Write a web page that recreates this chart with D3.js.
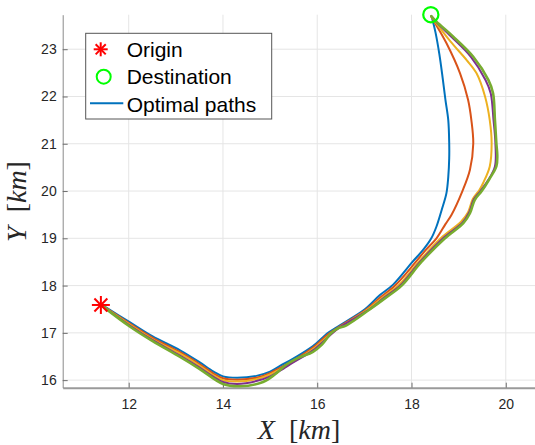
<!DOCTYPE html>
<html>
<head>
<meta charset="utf-8">
<script src="https://cdn.jsdelivr.net/npm/d3@7"></script>
<style>
  body { margin: 0; background: #fff; }
  svg { display: block; }
  .tick text { font-family: "Liberation Sans", Arial, sans-serif; font-size: 14px; fill: #262626; }
</style>
</head>
<body>
<div class="graphics"></div>
<script>
// origin / destination (km)
const origin = [11.41, 17.59];
const destination = [18.41, 23.73];

// optimal paths, [x, y] in km
const pathBlue = [
  [11.45,17.58],[12.03,17.22],[12.5,16.93],[13.09,16.63],[13.5,16.38],[13.8,16.18],[14.0,16.08],
  [14.3,16.05],[14.71,16.09],[15.0,16.18],[15.21,16.30],[15.5,16.46],[15.91,16.72],[16.23,17.0],
  [16.48,17.16],[17.01,17.5],[17.33,17.8],[17.61,18.02],[18.02,18.5],[18.25,18.76],[18.42,19.0],
  [18.53,19.25],[18.64,19.60],[18.74,19.95],[18.78,20.3],[18.80,20.7],[18.80,21.01],[18.78,21.5],
  [18.72,21.93],[18.66,22.4],[18.59,22.9],[18.51,23.35],[18.43,23.68]
];
const pathOrange = [
  [11.45,17.57],[12.03,17.19],[12.5,16.90],[13.09,16.59],[13.5,16.34],[13.8,16.14],[14.0,16.04],
  [14.3,16.01],[14.71,16.05],[15.0,16.15],[15.21,16.26],[15.5,16.42],[15.91,16.69],[16.23,16.97],
  [16.48,17.14],[17.01,17.47],[17.33,17.74],[17.65,18.0],[18.09,18.5],[18.30,18.75],[18.53,19.0],
  [18.72,19.3],[18.85,19.5],[19.08,20.0],[19.24,20.45],[19.31,21.0],[19.27,21.5],[19.20,21.93],
  [19.03,22.49],[18.74,23.13],[18.52,23.52],[18.42,23.69]
];
const pathYellow = [
  [11.45,17.565],[12.03,17.17],[12.5,16.87],[13.09,16.56],[13.5,16.31],[13.8,16.10],[14.0,16.0],
  [14.3,15.97],[14.71,16.02],[15.0,16.12],[15.21,16.23],[15.5,16.39],[15.91,16.66],[16.23,16.93],
  [16.48,17.12],[17.05,17.48],[17.4,17.76],[17.72,18.0],[18.15,18.5],[18.62,19.0],[19.05,19.35],
  [19.2,19.55],[19.3,19.83],[19.44,20.02],[19.52,20.17],[19.66,20.52],[19.70,21.01],[19.66,21.5],
  [19.56,22.0],[19.38,22.49],[19.17,22.77],[18.83,23.16],[18.42,23.69]
];
const pathPurple = [
  [11.45,17.56],[12.03,17.15],[12.5,16.85],[13.09,16.52],[13.5,16.27],[13.8,16.07],[14.0,15.96],
  [14.3,15.92],[14.71,15.98],[15.0,16.08],[15.21,16.2],[15.5,16.38],[15.91,16.63],[16.2,16.88],
  [16.45,17.1],[17.1,17.49],[17.43,17.75],[17.76,18.0],[18.18,18.5],[18.67,19.0],[19.08,19.33],
  [19.22,19.54],[19.32,19.82],[19.47,20.01],[19.62,20.22],[19.77,20.52],[19.78,21.01],[19.74,21.5],
  [19.68,22.07],[19.57,22.35],[19.26,22.84],[18.84,23.27],[18.5,23.6],[18.42,23.7]
];
const pathGreen = [
  [11.45,17.56],[12.03,17.13],[12.5,16.83],[13.09,16.49],[13.5,16.24],[14.0,15.92],[14.36,15.87],
  [14.85,15.96],[15.1,16.12],[15.35,16.33],[15.6,16.47],[15.91,16.60],[16.1,16.75],[16.3,17.0],
  [16.45,17.1],[16.62,17.16],[17.12,17.5],[17.45,17.74],[17.79,18.0],[18.21,18.5],[18.71,19.0],
  [19.10,19.32],[19.24,19.53],[19.34,19.81],[19.49,20.0],[19.65,20.25],[19.80,20.52],[19.82,20.75],
  [19.80,21.01],[19.77,21.5],[19.73,22.07],[19.63,22.35],[19.31,22.84],[18.88,23.27],[18.53,23.58],
  [18.42,23.7]
];
const paths = [pathBlue, pathOrange, pathYellow, pathPurple, pathGreen];

const xTicks = [12, 14, 16, 18, 20];
const yTicks = [16, 17, 18, 19, 20, 21, 22, 23];
const legendLabels = ["Origin", "Destination", "Optimal paths"];

// matlab default colour order
const colors = ["#0072BD", "#D95319", "#EDB120", "#7E2F8E", "#77AC30"];

const width = 535;
const height = 445;
const margin = { top: 14.7, right: 0, bottom: 57.3, left: 62.7 };

const svg = d3.select(".graphics")
  .append("svg")
  .attr("width", width)
  .attr("height", height);

const x = d3.scaleLinear()
  .domain([10.6, 20.62])
  .range([margin.left, width - margin.right]);

const y = d3.scaleLinear()
  .domain([15.84, 23.73])
  .range([height - margin.bottom, margin.top]);

// grid
const grid = svg.append("g").attr("stroke", "#e5e5e5").attr("stroke-width", 1);
grid.selectAll(".gx")
  .data(xTicks)
  .join("line")
  .attr("x1", d => x(d)).attr("x2", d => x(d))
  .attr("y1", y.range()[0]).attr("y2", y.range()[1]);
grid.selectAll(".gy")
  .data(yTicks)
  .join("line")
  .attr("y1", d => y(d)).attr("y2", d => y(d))
  .attr("x1", x.range()[0]).attr("x2", x.range()[1]);

// axes
const xAxis = svg.append("g")
  .attr("transform", `translate(0,${y.range()[0]})`)
  .call(d3.axisBottom(x).tickValues(xTicks).tickSizeInner(-5).tickSizeOuter(0).tickPadding(11));
const yAxis = svg.append("g")
  .attr("transform", `translate(${x.range()[0]},0)`)
  .call(d3.axisLeft(y).tickValues(yTicks).tickSizeInner(-5).tickSizeOuter(0).tickPadding(6));

xAxis.select(".domain").attr("stroke", "#9a9a9a").attr("stroke-width", 2);
yAxis.select(".domain").attr("stroke", "#8a8a8a");
svg.selectAll(".tick line").attr("stroke", "#6e6e6e");

// paths
const line = d3.line()
  .x(d => x(d[0]))
  .y(d => y(d[1]))
  .curve(d3.curveCatmullRom.alpha(0.5));

svg.append("g")
  .attr("fill", "none")
  .attr("stroke-linejoin", "round")
  .attr("stroke-linecap", "round")
  .selectAll("path")
  .data(paths)
  .join("path")
  .attr("d", line)
  .attr("stroke", (d, i) => colors[i])
  .attr("stroke-width", (d, i) => i === paths.length - 1 ? 2.6 : 2);

// markers
function asterisk(g, cx, cy, r) {
  const a = r * 0.72;
  const segs = [[-r, 0, r, 0], [0, -r, 0, r], [-a, -a, a, a], [-a, a, a, -a]];
  g.append("g")
    .attr("stroke", "#ff0000")
    .attr("stroke-width", 2)
    .selectAll("line")
    .data(segs)
    .join("line")
    .attr("x1", s => cx + s[0]).attr("y1", s => cy + s[1])
    .attr("x2", s => cx + s[2]).attr("y2", s => cy + s[3]);
}

asterisk(svg, x(origin[0]), y(origin[1]), 9);

svg.append("circle")
  .attr("cx", x(destination[0]))
  .attr("cy", y(destination[1]))
  .attr("r", 7.6)
  .attr("fill", "none")
  .attr("stroke", "#00ff00")
  .attr("stroke-width", 2.2);

// legend
const legend = svg.append("g");
legend.append("rect")
  .attr("x", 85.7).attr("y", 33.3)
  .attr("width", 186).attr("height", 85.7)
  .attr("fill", "#fff")
  .attr("stroke", "#555")
  .attr("stroke-width", 1);

asterisk(legend, 100.7, 49.3, 7);
legend.append("circle")
  .attr("cx", 103.7).attr("cy", 76.7).attr("r", 7)
  .attr("fill", "none").attr("stroke", "#00ff00").attr("stroke-width", 2);
legend.append("line")
  .attr("x1", 90).attr("x2", 123.3)
  .attr("y1", 103.3).attr("y2", 103.3)
  .attr("stroke", colors[0]).attr("stroke-width", 2);

legend.selectAll("text")
  .data(legendLabels)
  .join("text")
  .attr("x", 126.7)
  .attr("y", (d, i) => 56.5 + i * 27.7)
  .attr("font-family", "Liberation Sans, Arial, sans-serif")
  .attr("font-size", 21)
  .attr("fill", "#000")
  .text(d => d);

// axis labels (latex style)
const xl = svg.append("text")
  .attr("x", 299)
  .attr("y", 438.5)
  .attr("text-anchor", "middle")
  .attr("font-family", "Liberation Serif, Times New Roman, serif")
  .attr("font-size", 28)
  .attr("fill", "#262626");
xl.append("tspan").attr("font-style", "italic").text("X");
xl.append("tspan").text("\u2002[");
xl.append("tspan").attr("font-style", "italic").text("km");
xl.append("tspan").text("]");

const yl = svg.append("text")
  .attr("transform", "translate(26,201.5) rotate(-90)")
  .attr("text-anchor", "middle")
  .attr("font-family", "Liberation Serif, Times New Roman, serif")
  .attr("font-size", 28)
  .attr("fill", "#262626");
yl.append("tspan").attr("font-style", "italic").text("Y");
yl.append("tspan").text("\u2002[");
yl.append("tspan").attr("font-style", "italic").text("km");
yl.append("tspan").text("]");
</script>
</body>
</html>
